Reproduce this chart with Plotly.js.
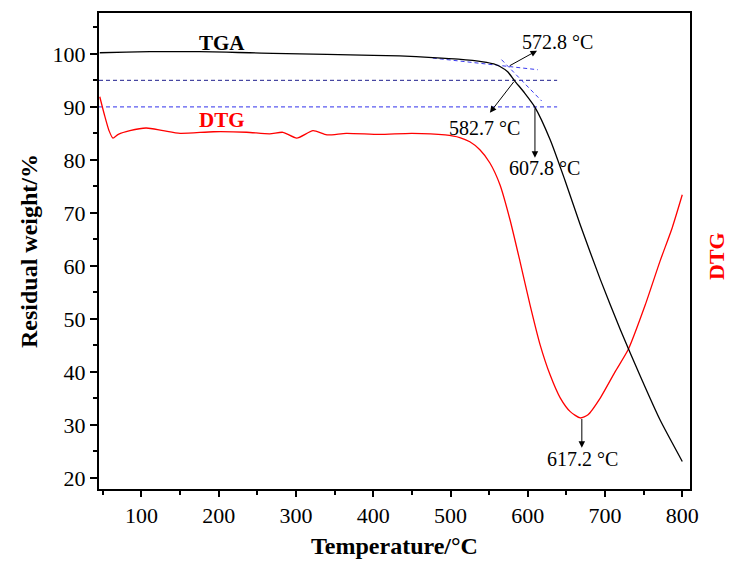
<!DOCTYPE html>
<html>
<head>
<meta charset="utf-8">
<script src="https://cdn.plot.ly/plotly-3.0.1.min.js"></script>
<style>html,body{margin:0;padding:0;background:#fff;}#chart{width:731px;height:564px;}</style>
</head>
<body>
<div id="chart"></div>
<script>
// TGA curve (residual weight, %)
const tgaTemp = [46, 80, 111, 140, 175, 210, 240, 270, 305, 340, 370, 400, 434, 477, 510, 542, 556, 564, 574, 583, 596, 609, 629, 648, 668, 694, 720, 745, 771, 800];
const tgaWeight = [100.2, 100.3, 100.4, 100.4, 100.4, 100.3, 100.2, 100.1, 100.0, 99.9, 99.8, 99.7, 99.6, 99.3, 99.0, 98.5, 98.1, 97.6, 96.6, 94.9, 92.6, 90.0, 83.8, 76.2, 67.7, 57.4, 47.9, 39.4, 31.0, 23.1];

// DTG curve (drawn on the same scale as in the figure)
const dtgTemp = [46, 52, 58, 63, 70, 85, 106, 128, 150, 193, 236, 266, 283, 301, 322, 340, 365, 408, 450, 493, 512, 525, 538, 551, 564, 577, 590, 603, 616, 629, 642, 655, 668, 678, 694, 713, 730, 752, 771, 787, 800];
const dtgValue = [91.9, 88.5, 85.5, 84.1, 84.8, 85.5, 86.0, 85.5, 85.0, 85.3, 85.2, 84.9, 85.2, 84.1, 85.5, 84.7, 85.0, 84.8, 85.0, 84.7, 84.2, 83.4, 81.9, 79.4, 75.3, 68.7, 60.8, 52.6, 45.1, 39.4, 35.1, 32.5, 31.3, 31.9, 35.1, 40.0, 44.2, 52.6, 60.8, 67.2, 73.4];

// reference lines
const line95X = [45, 638], line95Y = [95, 95];
const line90X = [45, 638], line90Y = [90, 90];
const tangentBaseX = [477, 613], tangentBaseY = [99.2, 97.0];
const tangentSteepX = [566, 618], tangentSteepY = [98.9, 91.1];

// annotation labels and arrows
const peakLabels = ['572.8 °C', '582.7 °C', '607.8 °C', '617.2 °C'];
const labelX = [639, 544.5, 622, 671];
const labelY = [102.3, 86.0, 78.5, 23.5];
const arrowTipX = [612, 551, 609.3, 670];
const arrowTipY = [100.6, 88.9, 80.4, 25.7];
const arrowTailX = [574.7, 583.4, 609.3, 670];
const arrowTailY = [97.6, 95.0, 90.0, 31.4];

const curveNames = ['TGA', 'DTG'];
const curveNameX = [204, 204];
const curveNameY = [102.1, 87.6];

const xTicks = [100, 200, 300, 400, 500, 600, 700, 800];
const yTicks = [20, 30, 40, 50, 60, 70, 80, 90, 100];

const FONT = 'Liberation Serif, Times New Roman, serif';

const traces = [
  {x: line95X, y: line95Y, mode: 'lines', line: {color: '#1e1e8c', width: 1, dash: '4px,3px'}, hoverinfo: 'skip'},
  {x: line90X, y: line90Y, mode: 'lines', line: {color: '#5a5af0', width: 1.3, dash: '4px,3px'}, hoverinfo: 'skip'},
  {x: tangentBaseX, y: tangentBaseY, mode: 'lines', line: {color: '#3a3af0', width: 1, dash: '4px,3px'}, hoverinfo: 'skip'},
  {x: tangentSteepX, y: tangentSteepY, mode: 'lines', line: {color: '#3a3af0', width: 1, dash: '4px,3px'}, hoverinfo: 'skip'},
  {x: dtgTemp, y: dtgValue, mode: 'lines', line: {color: '#ff0000', width: 1.3, shape: 'spline', smoothing: 0.6}, name: 'DTG'},
  {x: tgaTemp, y: tgaWeight, mode: 'lines', line: {color: '#000000', width: 1.3, shape: 'spline', smoothing: 0.6}, name: 'TGA'}
];

const annotations = [];
for (let i = 0; i < peakLabels.length; i++) {
  annotations.push({x: arrowTipX[i], y: arrowTipY[i], ax: arrowTailX[i], ay: arrowTailY[i], axref: 'x', ayref: 'y', xref: 'x', yref: 'y',
    text: '', showarrow: true, arrowhead: 2, arrowsize: 1.3, arrowwidth: 1, arrowcolor: '#000'});
  annotations.push({x: labelX[i], y: labelY[i], xref: 'x', yref: 'y', text: peakLabels[i], showarrow: false,
    font: {family: FONT, size: 20, color: '#000'}});
}
const nameColors = ['#000000', '#ff0000'];
for (let i = 0; i < curveNames.length; i++) {
  annotations.push({x: curveNameX[i], y: curveNameY[i], xref: 'x', yref: 'y', text: '<b>' + curveNames[i] + '</b>', showarrow: false,
    font: {family: FONT, size: 21, color: nameColors[i]}});
}
annotations.push({x: 1.046, y: 0.49, xref: 'paper', yref: 'paper', xanchor: 'center', yanchor: 'middle', text: '<b>DTG</b>', textangle: -90, showarrow: false,
  font: {family: FONT, size: 22, color: '#ff0000'}});

const layout = {
  width: 731, height: 564,
  margin: {l: 99, r: 41, t: 13, b: 75},
  paper_bgcolor: '#fff', plot_bgcolor: '#fff',
  showlegend: false,
  font: {family: FONT, color: '#000'},
  xaxis: {
    range: [45, 810], tickmode: 'array', tickvals: xTicks, ticktext: xTicks.map(String),
    ticks: 'outside', ticklen: 6, tickwidth: 2, tickcolor: '#000',
    minor: {tickmode: 'linear', tick0: 0, dtick: 50, ticks: 'outside', ticklen: 4, tickwidth: 2, tickcolor: '#000', showgrid: false},
    showline: true, linewidth: 2, linecolor: '#000', mirror: true, showgrid: false, zeroline: false,
    tickfont: {family: FONT, size: 22, color: '#000'},
    title: {text: '<b>Temperature/°C</b>', font: {family: FONT, size: 24, color: '#000'}, standoff: 10}
  },
  yaxis: {
    range: [17.9, 107.7], tickmode: 'array', tickvals: yTicks, ticktext: yTicks.map(String),
    ticks: 'outside', ticklen: 7, tickwidth: 2, tickcolor: '#000',
    minor: {tickmode: 'linear', tick0: 0, dtick: 5, ticks: 'outside', ticklen: 4, tickwidth: 2, tickcolor: '#000', showgrid: false},
    showline: true, linewidth: 2, linecolor: '#000', mirror: true, showgrid: false, zeroline: false,
    tickfont: {family: FONT, size: 22, color: '#000'},
    title: {text: '<b>Residual weight/%</b>', font: {family: FONT, size: 24, color: '#000'}, standoff: 8}
  },
  annotations: annotations
};

Plotly.newPlot('chart', traces, layout, {staticPlot: true, displayModeBar: false});
</script>
</body>
</html>
